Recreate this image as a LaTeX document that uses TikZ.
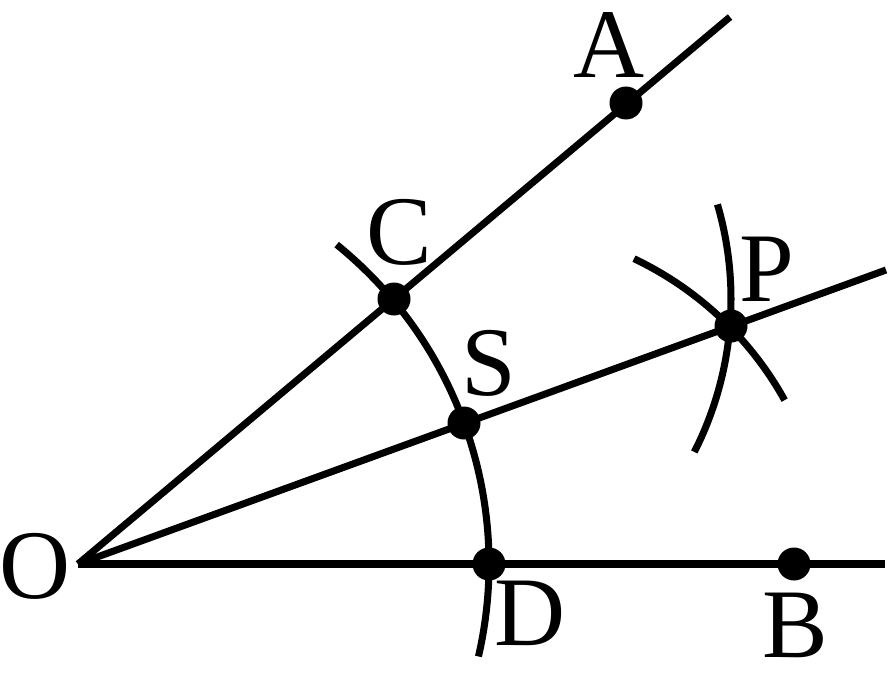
\documentclass[tikz,border=0pt]{standalone}
\usepackage{fontspec}
\setmainfont{Liberation Serif}
\tikzset{
    ray/.style={line width=4pt},
    pt/.style={circle,fill=black,inner sep=0pt,minimum size=.66cm},
    lab/.style={inner sep=0pt,font=\fontsize{56}{56}\selectfont}
}
\begin{document}
\begin{tikzpicture}
    \useasboundingbox (0,0) rectangle (17.76,13.7);
    \coordinate (O) at (1.56,2.42);
    \coordinate (Aend) at (14.6,13.36);
    \coordinate (Pend) at (17.72,8.3);
    \coordinate (Bend) at (17.7,2.42);
    \node[pt] (A) at (12.52,11.64) {};
    \node[pt] (C) at (7.88,7.72) {};
    \node[pt] (S) at (9.28,5.24) {};
    \node[pt] (D) at (9.78,2.42) {};
    \node[pt] (B) at (15.88,2.42) {};
    \node[pt] (P) at (14.62,7.18) {};

    \draw[ray] (O) -- (Aend); \draw[ray] (O) -- (Pend); \draw[ray] (O) -- (Bend);
    \draw[ray,shift={(O)}] (51:8.22) arc[start angle=51,end angle=-13,radius=8.22];
    \draw[ray,shift={(C)}] (16.3:6.74) arc[start angle=16.3,end angle=-27,radius=6.74];
    \draw[ray,shift={(D)}] (64.6:6.76) arc[start angle=64.6,end angle=29,radius=6.76];

    \node[lab] (Al) at (12.19,12.79) {A};
    \node[lab] (Cl) at (7.99,9.06) {C};
    \node[lab] (Sl) at (9.78,6.43) {S};
    \node[lab] (Pl) at (15.34,8.31) {P};
    \node[lab] (Ol) at (.7,2.38) {O};
    \node[lab] (Dl) at (10.6,1.43) {D};
    \node[lab] (Bl) at (15.9,1.2) {B};
\end{tikzpicture}
\end{document}
